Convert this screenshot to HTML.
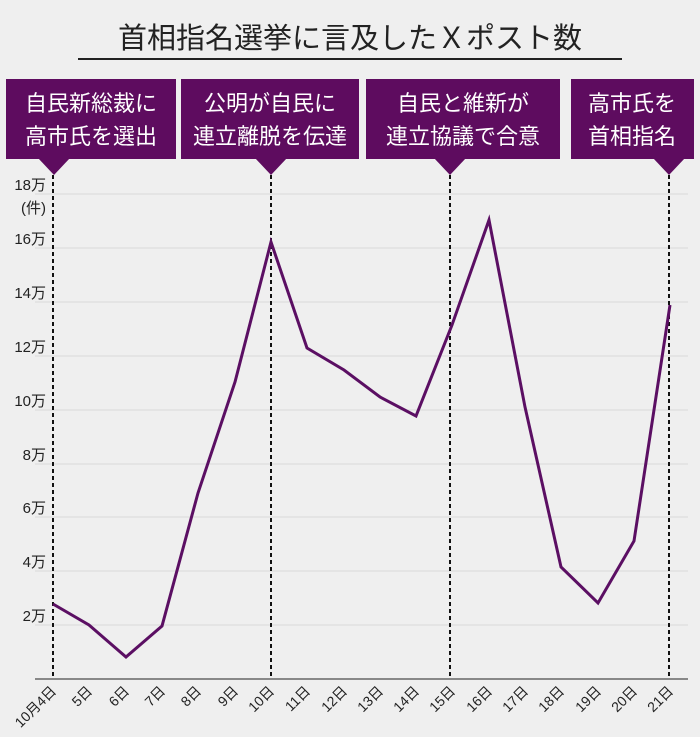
<!DOCTYPE html>
<html><head><meta charset="utf-8"><style>
body{margin:0;background:#efefef;}
svg{display:block;font-family:"Liberation Sans","Noto Sans CJK JP",sans-serif;}
</style></head><body>
<svg width="700" height="737" viewBox="0 0 700 737">
<rect width="700" height="737" fill="#efefef"/>
<text x="350" y="48" font-size="29" text-anchor="middle" fill="#222">首相指名選挙に言及したＸポスト数</text>
<line x1="78" y1="59" x2="622" y2="59" stroke="#222" stroke-width="2"/>
<g fill="#5e0c5f">
<rect x="6" y="79" width="170" height="80"/><polygon points="38,158 70,158 54,175"/>
<rect x="181" y="79" width="178" height="80"/><polygon points="255,158 287,158 271,175"/>
<rect x="366" y="79" width="194" height="80"/><polygon points="434,158 466,158 450,175"/>
<rect x="571" y="79" width="123" height="80"/><polygon points="653,158 685,158 669,175"/>
</g>
<g fill="#fff" font-size="22" text-anchor="middle">
<text x="91" y="111">自民新総裁に</text><text x="91" y="144">高市氏を選出</text>
<text x="270" y="111">公明が自民に</text><text x="270" y="144">連立離脱を伝達</text>
<text x="463" y="111">自民と維新が</text><text x="463" y="144">連立協議で合意</text>
<text x="632" y="111">高市氏を</text><text x="632" y="144">首相指名</text>
</g>
<g stroke="#d8d8d8" stroke-width="1">
<line x1="35" y1="194" x2="688" y2="194"/><line x1="35" y1="248" x2="688" y2="248"/>
<line x1="35" y1="302" x2="688" y2="302"/><line x1="35" y1="356" x2="688" y2="356"/>
<line x1="35" y1="410" x2="688" y2="410"/><line x1="35" y1="464" x2="688" y2="464"/>
<line x1="35" y1="517" x2="688" y2="517"/><line x1="35" y1="571" x2="688" y2="571"/>
<line x1="35" y1="625" x2="688" y2="625"/>
</g>
<g font-size="15" fill="#222" text-anchor="end">
<text x="46" y="190">18万</text><text x="46" y="213">(件)</text>
<text x="46" y="244">16万</text><text x="46" y="298">14万</text><text x="46" y="352">12万</text>
<text x="46" y="406">10万</text><text x="46" y="460">8万</text><text x="46" y="513">6万</text>
<text x="46" y="567">4万</text><text x="46" y="621">2万</text>
</g>
<g stroke="#111" stroke-width="2" stroke-dasharray="4,3">
<line x1="53" y1="175" x2="53" y2="679"/><line x1="271" y1="175" x2="271" y2="679"/>
<line x1="450" y1="175" x2="450" y2="679"/><line x1="669" y1="175" x2="669" y2="679"/>
</g>
<line x1="35" y1="679" x2="688" y2="679" stroke="#666" stroke-width="1.5"/>
<polyline fill="none" stroke="#5b0f63" stroke-width="3" stroke-linejoin="miter"
points="53,604 89,625 126,657 162,626 198,493 235,382 271,242 307,348 344,370 380,397 416,416 452,325 489,220 525,407 561,567 598,603 634,541 670,305"/>
<g font-size="14" fill="#222" text-anchor="end">
<text transform="translate(57,692) rotate(-45)">10月4日</text>
<text transform="translate(93,692) rotate(-45)">5日</text>
<text transform="translate(130,692) rotate(-45)">6日</text>
<text transform="translate(166,692) rotate(-45)">7日</text>
<text transform="translate(202,692) rotate(-45)">8日</text>
<text transform="translate(239,692) rotate(-45)">9日</text>
<text transform="translate(275,692) rotate(-45)">10日</text>
<text transform="translate(311,692) rotate(-45)">11日</text>
<text transform="translate(348,692) rotate(-45)">12日</text>
<text transform="translate(384,692) rotate(-45)">13日</text>
<text transform="translate(420,692) rotate(-45)">14日</text>
<text transform="translate(456,692) rotate(-45)">15日</text>
<text transform="translate(493,692) rotate(-45)">16日</text>
<text transform="translate(529,692) rotate(-45)">17日</text>
<text transform="translate(565,692) rotate(-45)">18日</text>
<text transform="translate(602,692) rotate(-45)">19日</text>
<text transform="translate(638,692) rotate(-45)">20日</text>
<text transform="translate(674,692) rotate(-45)">21日</text>
</g>
</svg>
</body></html>
